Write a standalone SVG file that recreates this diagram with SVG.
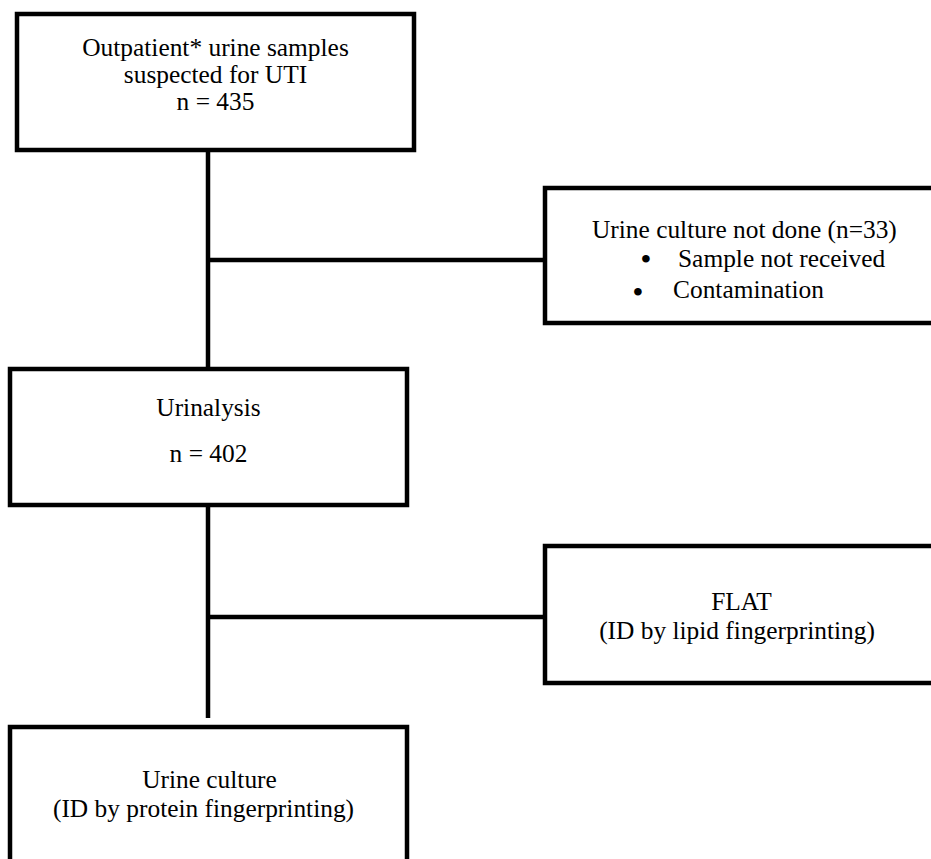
<svg xmlns="http://www.w3.org/2000/svg" width="931" height="859" viewBox="0 0 931 859">
<style>
.box{fill:#fff;stroke:#000;stroke-width:4.5}
.ln{stroke:#000;stroke-width:4.5;fill:none}
text{font-family:"Liberation Serif","Times New Roman",serif;font-size:25.4px;fill:#000}
.c{text-anchor:middle}
.b{font-size:28px;font-weight:bold;text-anchor:middle}
</style>
<rect width="931" height="859" fill="#fff"/>
<g id="connectors">
<line class="ln" x1="208" y1="150" x2="208" y2="369"/>
<line class="ln" x1="208" y1="260" x2="545" y2="260"/>
<line class="ln" x1="208" y1="505" x2="208" y2="718"/>
<line class="ln" x1="208" y1="617" x2="545" y2="617"/>
</g>
<g id="n1">
<rect class="box" x="17" y="14" width="397" height="136"/>
<text class="c" x="215.5" y="56">Outpatient* urine samples</text>
<text class="c" x="215.5" y="83">suspected for UTI</text>
<text class="c" x="215.5" y="110">n = 435</text>
</g>
<g id="n2">
<rect class="box" x="545" y="188" width="400" height="135"/>
<text x="592" y="237.5">Urine culture not done (n=33)</text>
<text x="646" y="268" class="b">•</text>
<text x="678" y="267">Sample not received</text>
<text x="638" y="300.5" class="b">•</text>
<text x="673" y="298">Contamination</text>
</g>
<g id="n3">
<rect class="box" x="10" y="369" width="397" height="136"/>
<text class="c" x="208.5" y="416">Urinalysis</text>
<text class="c" x="208.5" y="462">n = 402</text>
</g>
<g id="n4">
<rect class="box" x="545" y="546" width="400" height="137"/>
<text class="c" x="741.5" y="610">FLAT</text>
<text class="c" x="737" y="639">(ID by lipid fingerprinting)</text>
</g>
<g id="n5">
<rect class="box" x="10" y="727" width="397" height="160"/>
<text class="c" x="209.5" y="788">Urine culture</text>
<text class="c" x="203.5" y="817">(ID by protein fingerprinting)</text>
</g>
</svg>
